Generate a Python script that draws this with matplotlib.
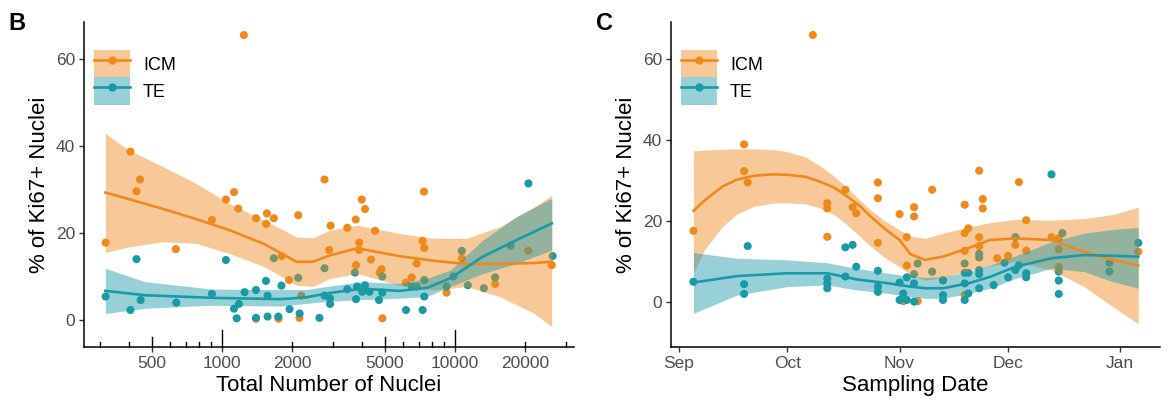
import numpy as np
import matplotlib
matplotlib.use("Agg")
import matplotlib.pyplot as plt
import matplotlib.dates as mdates
from matplotlib.patches import Patch
from matplotlib.lines import Line2D

plt.rcParams["font.family"] = ["Liberation Sans", "DejaVu Sans"]

ICM_COL = "#F0891B"
TE_COL = "#1A9AA7"
RIB_ALPHA = 0.45

# --- panel B: total number of nuclei (log x) ---
icm_nuc = [317, 405, 430, 445, 634, 906, 1040, 1127, 1175, 1242, 1400, 1549, 1560, 1670,
           1803, 1940, 2125, 2190, 2755, 2885, 2925, 3450, 3750, 3760, 3880, 3880, 3980,
           4110, 4365, 4540, 4840, 4750, 4880, 6160, 6520, 6850, 7260, 7360, 7380, 9200,
           10700, 14860, 20650, 26000, 1400, 1750, 2150]
icm_pct_b = [17.8, 38.7, 29.6, 32.3, 16.3, 23.0, 27.7, 29.4, 25.6, 65.5, 23.4, 22.1, 24.5, 23.4,
             14.7, 9.2, 24.1, 5.6, 32.3, 16.1, 21.7, 21.2, 23.1, 12.6, 17.8, 16.1, 27.7,
             25.5, 13.9, 20.5, 11.7, 10.9, 0.4, 8.6, 9.8, 13.0, 18.2, 29.5, 16.6, 6.3,
             14.2, 8.3, 15.9, 12.6, 0.3, 0.3, 0.5]

te_nuc = [317, 405, 430, 448, 637, 906, 1040, 1127, 1157, 1183, 1251, 1400, 1400, 1545, 1570,
          1570, 1670, 1745, 1800, 1950, 2125, 2155, 2620, 2755, 2755, 2910, 2910, 3450, 3720,
          3760, 3800, 4000, 4110, 4300, 4720, 4875, 4875, 6160, 6520, 6850, 7260, 7380, 7380,
          9200, 9840, 10700, 11350, 13300, 14860, 17340, 20650, 26240]
te_pct_b = [5.4, 2.3, 14.0, 4.6, 4.0, 6.0, 13.8, 2.6, 0.4, 3.7, 6.4, 6.9, 0.5, 9.0, 5.6,
            0.8, 14.2, 0.8, 7.9, 2.5, 9.7, 1.5, 0.5, 11.9, 5.6, 5.0, 3.7, 7.1, 10.9,
            4.8, 7.7, 6.5, 8.0, 6.5, 4.6, 10.0, 6.3, 2.3, 7.7, 7.7, 2.3, 5.4, 9.2,
            7.7, 10.0, 15.9, 8.0, 7.3, 9.8, 17.1, 31.4, 14.7]

# loess fits
icm_fit_nuc = [316, 398, 562, 776, 1072, 1514, 2089, 2455, 2884, 3802, 5754, 8128,
               11220, 15488, 21878, 26002]
icm_fit_b = [29.3, 27.8, 25.5, 23.2, 20.7, 17.5, 13.4, 13.4, 14.8, 16.5, 14.7, 13.6,
             12.9, 12.9, 13.1, 13.4]
icm_hi_b = [42.9, 39.1, 35.2, 31.4, 26.8, 23.0, 19.1, 18.9, 20.6, 21.8, 19.9, 18.8,
            18.8, 21.4, 26.0, 28.7]
icm_lo_b = [15.5, 16.8, 18.0, 17.6, 15.3, 12.3, 8.0, 7.7, 9.5, 10.7, 8.0, 6.9,
            7.7, 5.4, 1.5, -1.5]

te_fit_nuc = [316, 468, 912, 1778, 2291, 2884, 3981, 5754, 7586, 9550, 13183, 18408, 26002]
te_fit_b = [6.7, 5.7, 5.1, 4.8, 5.2, 6.2, 7.2, 6.7, 7.4, 9.6, 14.6, 18.4, 22.2]
te_hi_b = [11.9, 8.8, 7.1, 7.0, 7.0, 7.8, 8.8, 8.4, 9.6, 11.5, 18.4, 23.8, 28.0]
te_lo_b = [1.5, 2.7, 3.4, 3.2, 3.8, 4.3, 4.7, 5.0, 5.4, 7.7, 10.7, 13.0, 16.1]

# --- panel C: sampling date ---
icm_date = ["2019-09-05", "2019-09-19", "2019-09-19", "2019-09-20", "2019-10-08",
            "2019-10-12", "2019-10-12", "2019-10-12", "2019-10-17", "2019-10-19",
            "2019-10-20", "2019-10-26", "2019-10-26", "2019-10-26", "2019-11-01",
            "2019-11-02", "2019-11-03", "2019-11-03", "2019-11-05", "2019-11-05",
            "2019-11-06", "2019-11-10", "2019-11-13", "2019-11-19", "2019-11-19",
            "2019-11-19", "2019-11-20", "2019-11-23", "2019-11-23", "2019-11-23",
            "2019-11-24", "2019-11-24", "2019-11-19", "2019-11-28", "2019-12-01",
            "2019-12-03", "2019-12-04", "2019-12-06", "2019-12-06", "2019-12-13",
            "2019-12-15", "2019-12-15", "2019-12-15", "2020-01-06"]
icm_pct_c = [17.6, 38.9, 32.3, 29.5, 65.9,
             24.4, 23.1, 16.1, 27.7, 23.4,
             21.9, 29.5, 25.6, 14.6, 21.7,
             0.2, 16.0, 9.0, 21.1, 23.4,
             0.2, 27.7, 5.3, 24.0, 17.0,
             12.6, 18.2, 32.4, 16.0, 13.8,
             25.4, 23.1, 1.7, 10.8, 11.4,
             14.1, 29.6, 12.7, 20.2, 16.0,
             15.7, 13.0, 8.7, 12.4]

te_date = ["2019-09-05", "2019-09-19", "2019-09-19", "2019-09-20", "2019-10-12",
           "2019-10-12", "2019-10-12", "2019-10-17", "2019-10-17", "2019-10-19",
           "2019-10-20", "2019-10-26", "2019-10-26", "2019-10-26", "2019-11-01",
           "2019-11-01", "2019-11-02", "2019-11-03", "2019-11-03", "2019-11-05",
           "2019-11-05", "2019-11-05", "2019-11-06", "2019-11-10", "2019-11-13",
           "2019-11-13", "2019-11-13", "2019-11-19", "2019-11-19", "2019-11-19",
           "2019-11-19", "2019-11-20", "2019-11-20", "2019-11-23", "2019-11-23",
           "2019-11-23", "2019-11-23", "2019-11-23", "2019-11-27", "2019-11-30",
           "2019-12-01", "2019-12-03", "2019-12-03", "2019-12-04", "2019-12-06",
           "2019-12-06", "2019-12-13", "2019-12-15", "2019-12-15", "2019-12-15",
           "2019-12-16", "2019-12-29", "2019-12-29", "2020-01-06"]
te_pct_c = [5.0, 4.4, 2.0, 13.8, 5.8,
            4.6, 3.4, 6.3, 13.5, 14.1,
            8.7, 3.8, 2.5, 7.7, 4.8,
            0.5, 2.1, 6.1, 0.5, 6.9,
            4.6, 0.1, 9.5, 7.5, 5.4,
            1.7, 0.5, 9.5, 7.2, 0.5,
            4.6, 7.2, 2.1, 11.9, 7.9,
            11.0, 6.9, 3.4, 4.2, 9.7,
            6.1, 7.9, 16.0, 9.1, 7.1,
            6.1, 31.5, 7.5, 5.3, 2.0,
            17.0, 9.7, 7.5, 14.6]

icm_fit_date = ["2019-09-05", "2019-09-08", "2019-09-13", "2019-09-17", "2019-09-22",
                "2019-09-27", "2019-10-01", "2019-10-06", "2019-10-10", "2019-10-14",
                "2019-10-17", "2019-10-21", "2019-10-24", "2019-10-28", "2019-11-01",
                "2019-11-04", "2019-11-08", "2019-11-13", "2019-11-20", "2019-11-26",
                "2019-12-03", "2019-12-13", "2019-12-22", "2019-12-30", "2020-01-06"]
icm_fit_c = [22.5, 25.0, 28.5, 30.2, 31.2, 31.5, 31.4, 30.9, 29.7, 28.2,
             26.4, 23.7, 21.1, 18.0, 15.3, 11.8, 10.4, 11.2, 13.3, 15.3,
             15.7, 15.3, 12.4, 10.4, 9.0]
icm_hi_c = [37.3, 37.5, 37.7, 37.8, 37.8, 37.6, 37.1, 35.8, 33.6, 31.0,
            28.5, 25.2, 22.7, 20.0, 17.8, 16.3, 15.7, 17.0, 18.5, 19.6,
            20.4, 20.2, 20.6, 21.6, 23.4]
icm_lo_c = [7.1, 12.8, 18.6, 21.7, 23.7, 24.4, 24.5, 24.2, 23.2, 21.5,
            19.4, 16.2, 13.7, 10.9, 8.7, 6.7, 5.4, 6.0, 7.8, 8.9,
            10.0, 7.9, 3.8, -1.2, -5.4]

te_fit_date = ["2019-09-05", "2019-09-17", "2019-10-01", "2019-10-12", "2019-10-20",
               "2019-10-29", "2019-11-04", "2019-11-08", "2019-11-13", "2019-11-20",
               "2019-11-26", "2019-12-03", "2019-12-13", "2019-12-22", "2019-12-30",
               "2020-01-06"]
te_fit_c = [4.8, 6.4, 7.1, 7.1, 5.6, 4.6, 3.8, 3.4, 3.4, 4.6, 6.2, 8.7, 10.8, 11.6, 11.4, 11.2]
te_hi_c = [12.2, 10.8, 10.4, 9.7, 8.3, 7.1, 6.3, 6.1, 6.2, 7.5, 9.1, 11.4, 14.9, 17.0, 17.9, 18.4]
te_lo_c = [-2.8, 1.7, 3.8, 4.2, 3.0, 2.1, 1.3, 0.9, 0.9, 2.1, 3.4, 5.8, 8.3, 7.5, 5.0, 3.4]

y_ticks = [0, 20, 40, 60]
nuc_ticks = [500, 1000, 2000, 5000, 10000, 20000]
month_ticks = ["2019-09-01", "2019-10-01", "2019-11-01", "2019-12-01", "2020-01-01"]


def to_dates(lst):
    return np.array(lst, dtype="datetime64[D]")


def style_axes(ax):
    for s in ["top", "right"]:
        ax.spines[s].set_visible(False)
    for s in ["left", "bottom"]:
        ax.spines[s].set_linewidth(1.1)
        ax.spines[s].set_color("black")
    ax.tick_params(axis="both", which="major", direction="out", length=3.5, width=1.0,
                   color="#333333", labelcolor="#4D4D4D", labelsize=12.5, pad=3)
    ax.set_yticks(y_ticks)
    ax.set_ylabel("% of Ki67+ Nuclei", fontsize=16, labelpad=4)


def draw_series(ax, x, y, fx, fit, lo, hi, color):
    # points under the ribbons, as ggplot layers them
    ax.scatter(x, y, s=34, color=color, edgecolors="none", zorder=1)
    ax.fill_between(fx, lo, hi, color=color, alpha=RIB_ALPHA, linewidth=0, zorder=2)
    ax.plot(fx, fit, color=color, linewidth=1.9, zorder=3)


def add_legend(ax):
    handles = []
    for col in [ICM_COL, TE_COL]:
        p = Patch(facecolor=col, alpha=RIB_ALPHA, edgecolor="none")
        ln = Line2D([], [], color=col, linewidth=1.9, marker="o", markersize=5)
        handles.append((p, ln))
    ax.legend(handles, ["ICM", "TE"], loc="upper left", bbox_to_anchor=(0.01, 0.93),
              frameon=False, fontsize=13, handlelength=1.95, handleheight=1.95,
              labelspacing=0.0, handletextpad=0.75, borderpad=0.0, borderaxespad=0.3)


fig = plt.figure(figsize=(11.68, 4.03), dpi=100)
axB = fig.add_axes([84 / 1168, 1 - 347 / 403, 490 / 1168, 325 / 403])
axC = fig.add_axes([671 / 1168, 1 - 347 / 403, 489 / 1168, 325 / 403])

# panel B
axB.set_xscale("log")
draw_series(axB, icm_nuc, icm_pct_b, icm_fit_nuc, icm_fit_b, icm_lo_b, icm_hi_b, ICM_COL)
draw_series(axB, te_nuc, te_pct_b, te_fit_nuc, te_fit_b, te_lo_b, te_hi_b, TE_COL)
axB.set_xlim(256, 32400)
axB.set_ylim(-6.2, 68.5)
style_axes(axB)
axB.set_xticks(nuc_ticks)
axB.set_xticklabels([str(v) for v in nuc_ticks])
axB.set_xticks([], minor=True)
axB.set_xlabel("Total Number of Nuclei", fontsize=16, labelpad=3)

# log ticks inside the panel (short / mid / long)
trans = axB.get_xaxis_transform()
for dec in [100, 1000, 10000]:
    for k in range(1, 10):
        v = k * dec
        if v < 256 or v > 32400:
            continue
        h = 17 / 325 if k == 1 else (10 / 325 if k == 5 else 5.5 / 325)
        axB.plot([v, v], [0, h], transform=trans, color="black", linewidth=1.0,
                 clip_on=False, zorder=4)
add_legend(axB)

# panel C
draw_series(axC, to_dates(icm_date), icm_pct_c, to_dates(icm_fit_date), icm_fit_c,
            icm_lo_c, icm_hi_c, ICM_COL)
draw_series(axC, to_dates(te_date), te_pct_c, to_dates(te_fit_date), te_fit_c,
            te_lo_c, te_hi_c, TE_COL)
axC.set_xlim(np.datetime64("2019-08-29T19:00"), np.datetime64("2020-01-12"))
axC.set_ylim(-11.1, 69.1)
style_axes(axC)
axC.set_xticks(to_dates(month_ticks))
axC.xaxis.set_major_formatter(mdates.DateFormatter("%b"))
axC.set_xlabel("Sampling Date", fontsize=16, labelpad=3)
add_legend(axC)

fig.text(8 / 1168, 1 - 30 / 403, "B", fontsize=17, fontweight="bold")
fig.text(596 / 1168, 1 - 30 / 403, "C", fontsize=17, fontweight="bold")

fig.savefig("out.png", dpi=100)
